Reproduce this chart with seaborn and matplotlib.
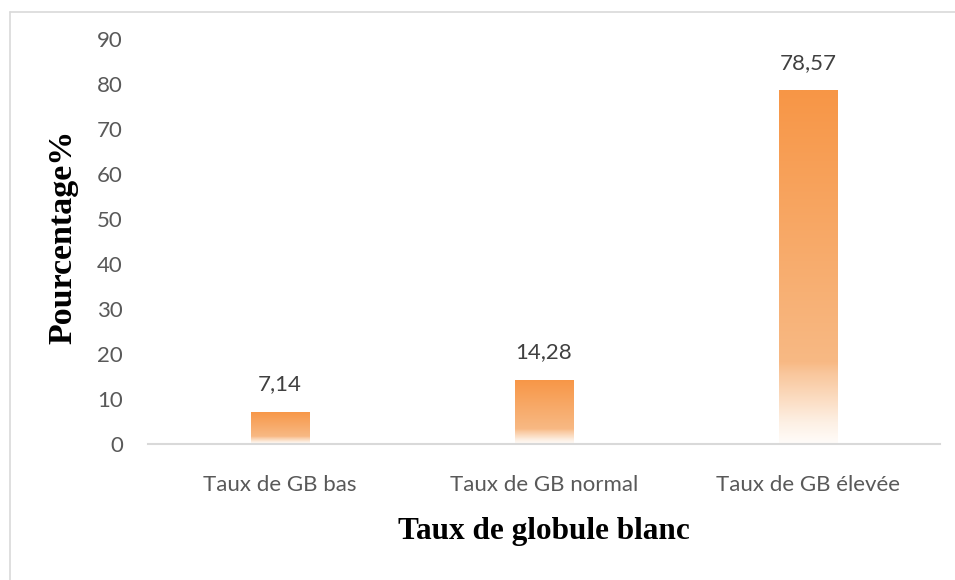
import numpy as np
import pandas as pd
import matplotlib
matplotlib.use("Agg")
import matplotlib.pyplot as plt
from matplotlib.colors import LinearSegmentedColormap
from matplotlib.lines import Line2D
import seaborn as sns

categories = ["Taux de GB bas", "Taux de GB normal", "Taux de GB élevée"]
values = [7.14, 14.28, 78.57]
value_labels = ["7,14", "14,28", "78,57"]
yticks = [0, 10, 20, 30, 40, 50, 60, 70, 80, 90]

df = pd.DataFrame({"cat": categories, "val": values})

sns.set_theme(style="white")
plt.rcParams["font.family"] = ["Lato", "DejaVu Sans"]

fig = plt.figure(figsize=(9.55, 5.8), dpi=100)
ax = fig.add_axes([148 / 955, 1 - 444 / 580, (940 - 148) / 955, (444 - 39) / 580])

sns.barplot(data=df, x="cat", y="val", ax=ax, width=0.22, color="#F79646",
            saturation=1, errorbar=None)

# vertical orange-to-white gradient inside each bar
grad = LinearSegmentedColormap.from_list(
    "bar_grad",
    [(0.0, "#FFFCF9"), (0.06, "#FDF0E4"), (0.20, "#F9C69B"),
     (0.23, "#F8B984"), (1.0, "#F79646")])
col = np.linspace(0, 1, 256).reshape(-1, 1)
for p in ax.patches:
    x0, y0 = p.get_x(), p.get_y()
    w, h = p.get_width(), p.get_height()
    im = ax.imshow(col, cmap=grad, origin="lower", aspect="auto",
                   extent=[x0, x0 + w, y0, y0 + h], zorder=2,
                   interpolation="bilinear")
    im.set_clip_path(p)
    p.set_facecolor("none")
    p.set_edgecolor("none")

for i, (v, lab) in enumerate(zip(values, value_labels)):
    ax.annotate(lab, (i, v), xytext=(0, 20), textcoords="offset points",
                ha="center", va="center", fontsize=16, color="#404040")

ax.set_xlim(-0.5, 2.5)
ax.set_ylim(0, 90)
ax.set_yticks(yticks)
ax.tick_params(axis="both", length=0, labelsize=16, labelcolor="#595959")
ax.tick_params(axis="x", pad=22)
ax.tick_params(axis="y", pad=18)

for s in ["top", "right", "left"]:
    ax.spines[s].set_visible(False)
ax.spines["bottom"].set_color("#D9D9D9")
ax.spines["bottom"].set_linewidth(1.5)

ax.set_xlabel("Taux de globule blanc", fontsize=22.5, fontweight="bold",
              family="Liberation Serif", color="black", va="center")
ax.set_ylabel("Pourcentage%", fontsize=24.5, fontweight="bold",
              family="Liberation Serif", color="black", va="center")
ax.xaxis.set_label_coords(0.5, (444 - 532) / 405)
ax.yaxis.set_label_coords((63 - 148) / 792, (444 - 237) / 405)

# chart frame (left and top edges)
fig.add_artist(Line2D([9.5 / 955, 9.5 / 955], [0, 1 - 11.5 / 580],
                      transform=fig.transFigure, color="#D9D9D9", lw=1.2))
fig.add_artist(Line2D([9.5 / 955, 1], [1 - 11.5 / 580, 1 - 11.5 / 580],
                      transform=fig.transFigure, color="#D9D9D9", lw=1.2))

fig.savefig("out.png", dpi=100)
